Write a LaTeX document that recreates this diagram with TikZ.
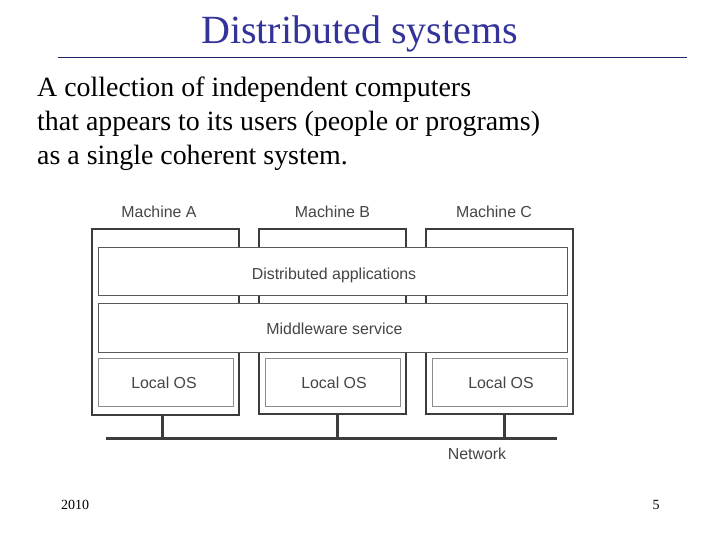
\documentclass[tikz,border=0pt]{standalone}
\usepackage{fontspec}
\setmainfont{Liberation Serif}
\newfontfamily\labelfont{Liberation Sans}
\usetikzlibrary{calc}
\definecolor{titleblue}{HTML}{333399}
\definecolor{boxdark}{HTML}{3C3C3C}
\definecolor{labelgray}{HTML}{454545}
\tikzset{
	machine/.style={rectangle, draw=boxdark, line width=2pt, fill=white, anchor=north west, inner sep=0pt, outer sep=0pt},
	layer/.style={rectangle, draw=black!65, line width=0.8pt, fill=white, anchor=north west, inner sep=0pt, outer sep=0pt},
	localos/.style={layer, draw=black!45},
	caption/.style={text=labelgray, font=\labelfont\fontsize{15.9}{18}\selectfont, inner sep=0pt},
	wire/.style={draw=boxdark, line width=3pt},
	tap/.style={draw=boxdark, line width=2.4pt},
	footer/.style={font=\fontsize{14}{16}\selectfont, inner sep=0pt, anchor=base}
}
\begin{document}
\begin{tikzpicture}[x=1pt, y=-1pt]

		\useasboundingbox (0,0) rectangle (720,540);
		\fill[white] (0,0) rectangle (720,540);

		% heading
		\node[anchor=base, inner sep=0pt, text=titleblue, font=\fontsize{40}{44}\selectfont] (title) at (359.5,44) {Distributed systems};
		\coordinate (ruleL) at (58,57);
		\coordinate (ruleR) at (687,57);
		\draw[draw=titleblue!70!black, line width=0.7pt] (ruleL) -- (ruleR);

		\node[anchor=base west, inner sep=0pt, align=left, font=\fontsize{27.9}{34}\selectfont] (body) at (37,164.5) {A collection of independent computers\\that appears to its users (people or programs)\\as a single coherent system.};

		% machines
		\node[machine, minimum width=147pt, minimum height=186pt] (machA) at (92,229) {};
		\node[machine, minimum width=147pt, minimum height=185pt] (machB) at (259,229) {};
		\node[machine, minimum width=147pt, minimum height=185pt] (machC) at (426,229) {};

		\node[caption] (labelA) at (159,212) {Machine A};
		\node[caption] (labelB) at (332.5,212) {Machine B};
		\node[caption] (labelC) at (494,212) {Machine C};

		% layers
		\node[layer, minimum width=469pt, minimum height=48.5pt] (apps) at (98,247) {};
		\node[caption] (appsText) at (334,275.5) {Distributed applications};
		\node[layer, minimum width=469pt, minimum height=48.5pt] (middle) at (98,303.5) {};
		\node[caption] (middleText) at (334.5,329) {Middleware service};

		\node[localos, minimum width=135pt, minimum height=48pt] (osA) at (98,358) {};
		\node[localos, minimum width=135pt, minimum height=48pt] (osB) at (265,358) {};
		\node[localos, minimum width=135pt, minimum height=48pt] (osC) at (432,358) {};
		\node[caption] (osAText) at (164,382.5) {Local OS};
		\node[caption] (osBText) at (334,382.5) {Local OS};
		\node[caption] (osCText) at (501,382.5) {Local OS};

		% network
		\coordinate (netL) at (106,438.5);
		\coordinate (netR) at (557,438.5);
		\draw[wire] (netL) -- (netR);
		\node[caption] (netText) at (477,454) {Network};

		\coordinate (tapA) at (162.5,438.5);
		\coordinate (tapB) at (337.5,438.5);
		\coordinate (tapC) at (504.5,438.5);
		\draw[tap] (tapA) -- (tapA |- machA.south);
		\draw[tap] (tapB) -- (tapB |- machB.south);
		\draw[tap] (tapC) -- (tapC |- machC.south);

		% footer
		\node[footer] (year) at (75,509) {2010};
		\node[footer] (page) at (656,509) {5};

\end{tikzpicture}
\end{document}
